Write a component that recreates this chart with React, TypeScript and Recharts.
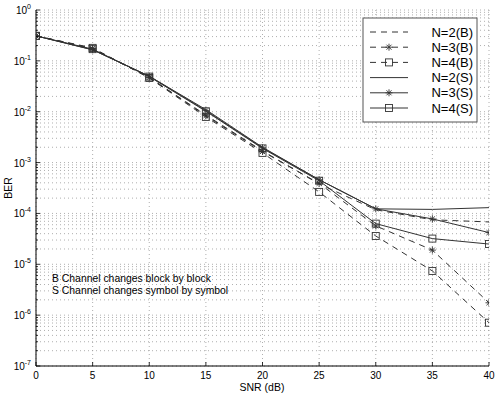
import { LineChart, Line, XAxis, YAxis, CartesianGrid } from 'recharts'

// SNR (dB) sample points
const snr = [0, 5, 10, 15, 20, 25, 30, 35, 40]

// BER values
const n2b = [0.31, 0.175, 0.047, 0.0086, 0.0017, 3.8e-4, 1.18e-4, 7.5e-5, 6.8e-5]
const n3b = [0.31, 0.175, 0.047, 0.0083, 0.00165, 3.9e-4, 5.7e-5, 1.9e-5, 1.75e-6]
const n4b = [0.31, 0.18, 0.046, 0.0079, 0.00155, 2.65e-4, 3.6e-5, 7.4e-6, 7.1e-7]
const n2s = [0.31, 0.165, 0.05, 0.011, 0.002, 4.6e-4, 1.23e-4, 1.2e-4, 1.3e-4]
const n3s = [0.31, 0.165, 0.05, 0.0105, 0.00195, 4.6e-4, 1.23e-4, 7.8e-5, 4.2e-5]
const n4s = [0.31, 0.17, 0.049, 0.0102, 0.0019, 4.4e-4, 6.3e-5, 3.2e-5, 2.5e-5]

const xTicks = [0, 5, 10, 15, 20, 25, 30, 35, 40]
const decadeExp = [-7, -6, -5, -4, -3, -2, -1, 0]
const minorMult = [2, 3, 4, 5, 6, 7, 8, 9]

const series = [
  { key: 'n2b', name: 'N=2(B)', values: n2b, dashed: true, marker: 'none' },
  { key: 'n3b', name: 'N=3(B)', values: n3b, dashed: true, marker: 'star' },
  { key: 'n4b', name: 'N=4(B)', values: n4b, dashed: true, marker: 'square' },
  { key: 'n2s', name: 'N=2(S)', values: n2s, dashed: false, marker: 'none' },
  { key: 'n3s', name: 'N=3(S)', values: n3s, dashed: false, marker: 'star' },
  { key: 'n4s', name: 'N=4(S)', values: n4s, dashed: false, marker: 'square' },
]

const notes = ['B Channel changes block by block', 'S Channel changes symbol by symbol']

const data = snr.map((s, i) => {
  const row: Record<string, number> = { snr: s }
  series.forEach(sr => { row[sr.key] = sr.values[i] })
  return row
})

const majorTicks = decadeExp.map(e => Math.pow(10, e))
const yTicks: number[] = []
decadeExp.forEach(e => {
  yTicks.push(Math.pow(10, e))
  if (e < 0) minorMult.forEach(m => yTicks.push(m * Math.pow(10, e)))
})
const isMajor = (v: number) => majorTicks.some(t => Math.abs(v - t) / t < 1e-6)

const INK = '#333'
const FONT = '"Liberation Sans", Arial, Helvetica, sans-serif'

function Marker({ type, cx, cy }: { type: string, cx: number, cy: number }) {
  if (type === 'star') {
    const r = 3.5
    const d = r * 0.72
    return (
      <path
        d={`M${cx - r},${cy}L${cx + r},${cy}M${cx},${cy - r}L${cx},${cy + r}M${cx - d},${cy - d}L${cx + d},${cy + d}M${cx - d},${cy + d}L${cx + d},${cy - d}`}
        stroke={INK} strokeWidth={0.9} fill="none"
      />
    )
  }
  if (type === 'square') {
    return <rect x={cx - 3.5} y={cy - 3.5} width={7} height={7} stroke={INK} strokeWidth={0.9} fill="none" />
  }
  return null
}

function makeDot(type: string) {
  return (props: any) => {
    const { cx, cy, index } = props
    if (type === 'none' || cx == null || cy == null) return <g key={index} />
    return <g key={index}><Marker type={type} cx={cx} cy={cy} /></g>
  }
}

function LeftTick(props: any) {
  const { x, y, payload } = props
  const major = isMajor(payload.value)
  const len = major ? 4 : 2
  const exp = Math.round(Math.log10(payload.value))
  return (
    <g>
      <line x1={x} x2={x + len} y1={y} y2={y} stroke="#000" strokeWidth={0.8} />
      {major && (
        <text x={x - 5} y={y + 4} textAnchor="end" fontSize={10} fill="#000" fontFamily={FONT}>
          10<tspan dy={-5} fontSize={7}>{exp}</tspan>
        </text>
      )}
    </g>
  )
}

function RightTick(props: any) {
  const { x, y, payload } = props
  const len = isMajor(payload.value) ? 4 : 2
  return <line x1={x} x2={x - len} y1={y} y2={y} stroke="#000" strokeWidth={0.8} />
}

function BottomTick(props: any) {
  const { x, y, payload } = props
  return (
    <g>
      <line x1={x} x2={x} y1={y} y2={y - 4} stroke="#000" strokeWidth={0.8} />
      <text x={x} y={y + 13} textAnchor="middle" fontSize={10} fill="#000" fontFamily={FONT}>{payload.value}</text>
    </g>
  )
}

function TopTick(props: any) {
  const { x, y } = props
  return <line x1={x} x2={x} y1={y} y2={y + 4} stroke="#000" strokeWidth={0.8} />
}

function LegendBox() {
  const left = 363
  const top = 18
  const w = 114
  const h = 104
  return (
    <g>
      <rect x={left} y={top} width={w} height={h} fill="#fff" stroke="#555" strokeWidth={1} />
      {series.map((s, i) => {
        const cy = top + 14 + i * 15.2
        return (
          <g key={s.key}>
            <line x1={left + 7} x2={left + 45} y1={cy} y2={cy} stroke={INK} strokeWidth={1}
              strokeDasharray={s.dashed ? '6 5' : undefined} />
            <Marker type={s.marker} cx={left + 26} cy={cy} />
            <text x={left + w - 4} y={cy + 4.5} textAnchor="end" fontSize={13} fill="#000" fontFamily={FONT}>{s.name}</text>
          </g>
        )
      })}
    </g>
  )
}

export default function App() {
  return (
    <div style={{ position: 'absolute', left: 0, top: 0, width: 495, height: 394, background: '#fff' }}>
      <LineChart width={495} height={394} data={data} margin={{ top: 10, right: 6, left: 0, bottom: 0 }}>
        <CartesianGrid stroke="#9a9a9a" strokeDasharray="1 3" strokeWidth={0.8} />
        <XAxis dataKey="snr" type="number" domain={[0, 40]} ticks={xTicks} interval={0}
          height={28} tickSize={0} tickMargin={0} tickLine={false} tick={<BottomTick />}
          axisLine={{ stroke: '#000' }} allowDataOverflow />
        <XAxis xAxisId="top" orientation="top" dataKey="snr" type="number" domain={[0, 40]} ticks={xTicks}
          interval={0} height={0} tickSize={0} tickMargin={0} tickLine={false} tick={<TopTick />}
          axisLine={{ stroke: '#000' }} allowDataOverflow />
        <YAxis scale="log" type="number" domain={[1e-7, 1]} ticks={yTicks} interval={0}
          width={36} tickSize={0} tickMargin={0} tickLine={false} tick={<LeftTick />}
          axisLine={{ stroke: '#000' }} allowDataOverflow />
        <YAxis yAxisId="right" orientation="right" scale="log" type="number" domain={[1e-7, 1]} ticks={yTicks}
          interval={0} width={0} tickSize={0} tickMargin={0} tickLine={false} tick={<RightTick />}
          axisLine={{ stroke: '#000' }} allowDataOverflow />
        {series.map(s => (
          <Line key={s.key} dataKey={s.key} name={s.name} type="linear" stroke={INK} strokeWidth={1}
            strokeDasharray={s.dashed ? '6 5' : undefined} dot={makeDot(s.marker)} activeDot={false}
            isAnimationActive={false} />
        ))}
      </LineChart>
      <svg width={495} height={394} style={{ position: 'absolute', left: 0, top: 0, pointerEvents: 'none' }}>
        <LegendBox />
        {notes.map((n, i) => (
          <text key={n} x={52} y={282 + i * 11.5} fontSize={10.4} fill="#000" fontFamily={FONT}>{n}</text>
        ))}
        <text x={262} y={391} textAnchor="middle" fontSize={10.5} fill="#000" fontFamily={FONT}>SNR (dB)</text>
        <text x={12} y={188} textAnchor="middle" fontSize={10.5} fill="#000" fontFamily={FONT}
          transform="rotate(-90 12 188)">BER</text>
      </svg>
    </div>
  )
}
